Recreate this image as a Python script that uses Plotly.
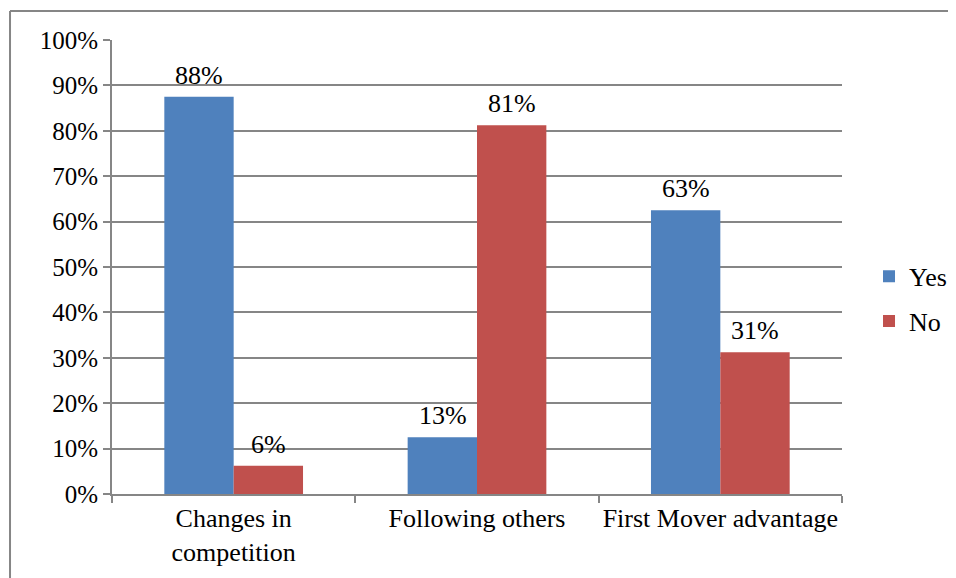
import plotly.graph_objects as go

categories = ["Changes in<br>competition", "Following others", "First Mover advantage"]
yes_values = [87.5, 12.5, 62.5]
no_values = [6.25, 81.25, 31.25]
yes_labels = ["88%", "13%", "63%"]
no_labels = ["6%", "81%", "31%"]

font_family = "Times New Roman, Liberation Serif, serif"
grid_color = "#868686"
bar_px = 69  # pixel width of one bar, used to centre the value labels

fig = go.Figure()
fig.add_trace(go.Bar(
    x=categories, y=yes_values, name="Yes", legendgroup="yes",
    marker=dict(color="#4F81BD", line=dict(width=0)),
))
fig.add_trace(go.Bar(
    x=categories, y=no_values, name="No", legendgroup="no",
    marker=dict(color="#C0504D", line=dict(width=0)),
))

# value labels above the bars
for vals, labels, shift in [(yes_values, yes_labels, -bar_px / 2), (no_values, no_labels, bar_px / 2)]:
    for cat, v, lab in zip(categories, vals, labels):
        fig.add_annotation(
            x=cat, y=v, text=lab, showarrow=False, xref="x", yref="y",
            xshift=shift, yshift=5, yanchor="bottom",
            font=dict(size=26, color="black", family=font_family),
        )

# outer chart border (left and top edges visible)
fig.add_shape(type="line", xref="paper", yref="paper",
              x0=-0.1397, x1=-0.1397, y0=-0.3, y1=1.0639,
              line=dict(color=grid_color, width=2))
fig.add_shape(type="line", xref="paper", yref="paper",
              x0=-0.1397, x1=1.3, y0=1.0639, y1=1.0639,
              line=dict(color=grid_color, width=2))

fig.update_layout(
    width=956, height=578,
    barmode="group", bargap=0.43, bargroupgap=0,
    plot_bgcolor="white", paper_bgcolor="white",
    margin=dict(l=104, r=122, t=32, b=92, autoexpand=False),
    font=dict(family=font_family, size=25, color="black"),
    legend=dict(x=1.037, y=0.43, yanchor="middle", font=dict(size=26, family=font_family),
                itemwidth=30, tracegroupgap=8),
    showlegend=True,
)
fig.update_xaxes(
    type="category", tickson="boundaries", ticks="outside", ticklen=7, tickangle=0,
    automargin=False,
    tickcolor=grid_color, tickwidth=2, showline=True, linecolor=grid_color, linewidth=2,
    showgrid=False, tickfont=dict(size=26, family=font_family),
)
fig.update_yaxes(
    range=[0, 100], dtick=10, ticksuffix="%", ticks="outside", ticklen=7,
    automargin=False,
    tickcolor=grid_color, tickwidth=2, showline=True, linecolor=grid_color, linewidth=2,
    showgrid=True, gridcolor=grid_color, gridwidth=1.5, zeroline=False,
    tickfont=dict(size=25, family=font_family),
)

fig.write_html("out.html")
